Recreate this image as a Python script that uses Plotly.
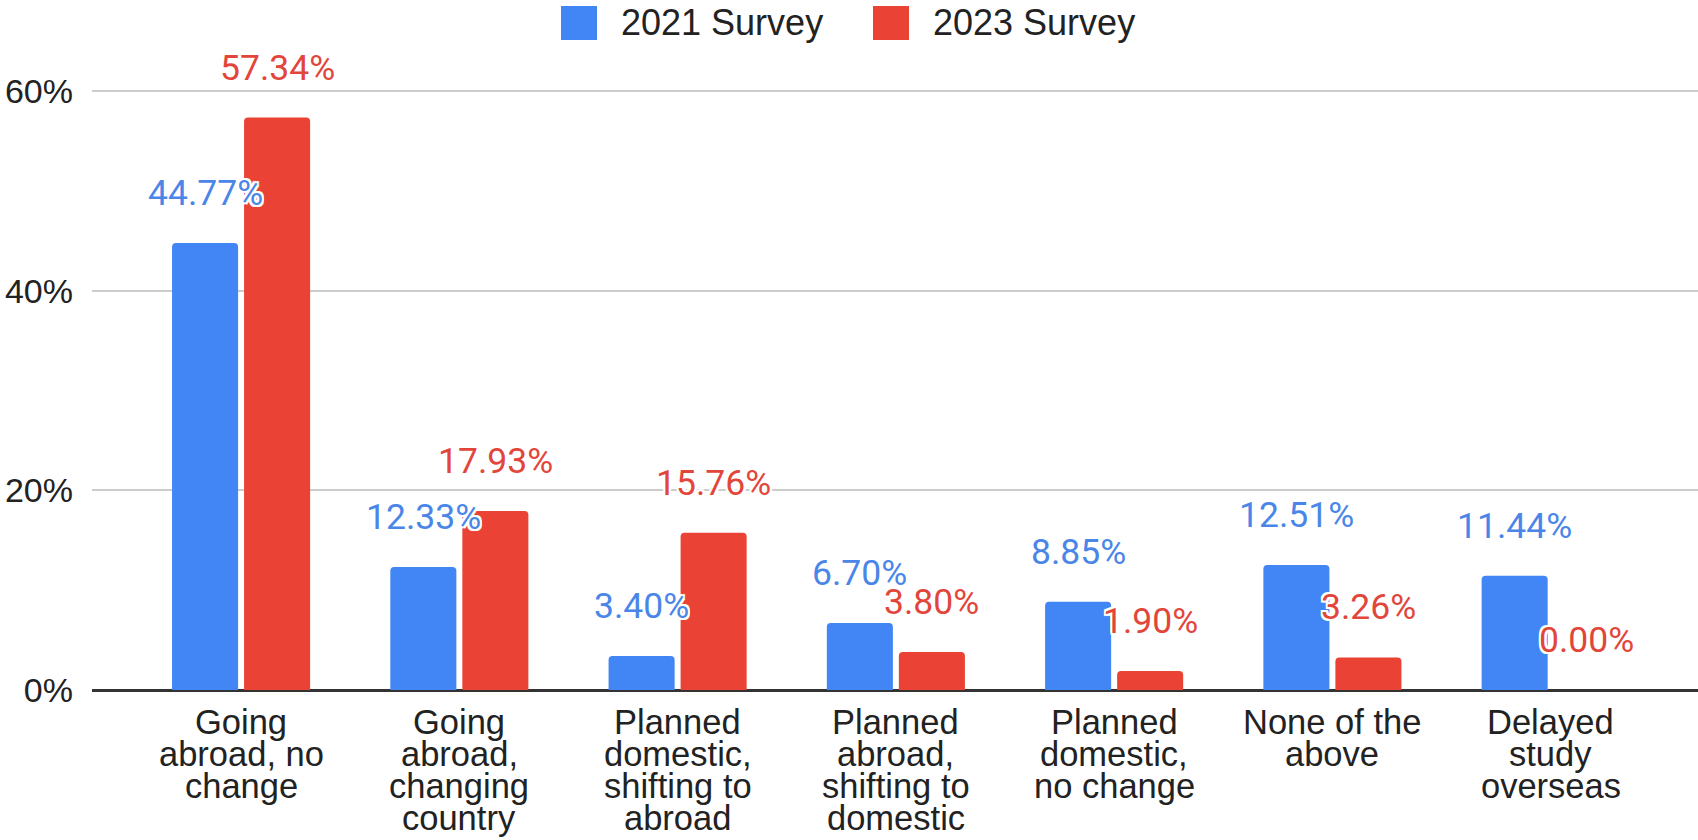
import plotly.graph_objects as go

# ---- data ----
categories = [
    "Going<br>abroad, no<br>change",
    "Going<br>abroad,<br>changing<br>country",
    "Planned<br>domestic,<br>shifting to<br>abroad",
    "Planned<br>abroad,<br>shifting to<br>domestic",
    "Planned<br>domestic,<br>no change",
    "None of the<br>above",
    "Delayed<br>study<br>overseas",
]
survey_2021 = [44.77, 12.33, 3.40, 6.70, 8.85, 12.51, 11.44]
survey_2023 = [57.34, 17.93, 15.76, 3.80, 1.90, 3.26, 0.00]
series_names = ["2021 Survey", "2023 Survey"]
y_tick_values = [0, 20, 40, 60]
y_tick_labels = ["0%", "20%", "40%", "60%"]

# ---- styling ----
W, H = 1698, 840
M_L, M_R, M_T, M_B = 92, 0, 60, 150
BLUE, RED = "#4285F4", "#EA4335"
BLUE_TXT, RED_TXT = "#4A86E8", "#E2463B"
AXIS_FONT = "Liberation Sans, Arial, sans-serif"
LABEL_FONT = "Roboto, sans-serif"
HALO = ", ".join(
    f"{dx}px {dy}px 0 #ffffff"
    for dx, dy in [(-2, -2), (2, -2), (-2, 2), (2, 2), (0, 2), (0, -2), (2, 0), (-2, 0)]
)
SLOT_HALF = 36  # half of one bar slot in pixels
LINE_STEP = 32  # vertical step between category label lines

fig = go.Figure()
for name, vals, col in [(series_names[0], survey_2021, BLUE),
                        (series_names[1], survey_2023, RED)]:
    fig.add_trace(go.Bar(
        x=categories, y=vals, name=name,
        marker=dict(color=col, cornerradius=4, line=dict(width=0)),
        showlegend=False, hoverinfo="skip",
    ))

annotations = []
# value labels above each bar
for vals, shift, col in [(survey_2021, -SLOT_HALF, BLUE_TXT),
                         (survey_2023, SLOT_HALF, RED_TXT)]:
    for cat, v in zip(categories, vals):
        annotations.append(dict(
            x=cat, y=v, xref="x", yref="y", text=f"{v:.2f}%",
            showarrow=False, xshift=shift, yshift=50, yanchor="middle",
            font=dict(family=LABEL_FONT, size=35.5, color=col, shadow=HALO),
        ))

# category labels, one annotation per line for tight line spacing
for cat in categories:
    for k, line in enumerate(cat.split("<br>")):
        annotations.append(dict(
            x=cat, y=0, xref="x", yref="y", text=line, showarrow=False,
            yanchor="middle", yshift=-32 - LINE_STEP * k,
            font=dict(family=AXIS_FONT, size=34.5, color="#222222"),
        ))

# legend drawn at the top
plot_w = W - M_L - M_R
plot_h = H - M_T - M_B


def px_x(px):
    return (px - M_L) / plot_w


def px_y(py):
    return (H - M_B - py) / plot_h


shapes = []
legend_items = [(series_names[0], BLUE, 561), (series_names[1], RED, 873)]
for name, col, x0 in legend_items:
    shapes.append(dict(
        type="rect", xref="paper", yref="paper",
        x0=px_x(x0), x1=px_x(x0 + 36), y0=px_y(40), y1=px_y(6),
        fillcolor=col, line=dict(width=0),
    ))
    annotations.append(dict(
        x=px_x(x0 + 58), y=px_y(23), xref="paper", yref="paper",
        xanchor="left", yanchor="middle", text=name, showarrow=False,
        font=dict(family=AXIS_FONT, size=36, color="#222222"),
    ))

fig.update_layout(
    width=W, height=H,
    margin=dict(l=M_L, r=M_R, t=M_T, b=M_B, pad=0),
    paper_bgcolor="white", plot_bgcolor="white",
    barmode="group", bargap=0.34, bargroupgap=0.083,
    annotations=annotations, shapes=shapes,
    showlegend=False,
    xaxis=dict(
        range=[-0.683, 6.675], showticklabels=False, showgrid=False,
        zeroline=False, showline=False, ticks="", fixedrange=True,
    ),
    yaxis=dict(
        range=[0, 63.1], tickvals=y_tick_values, ticktext=y_tick_labels,
        showgrid=True, gridcolor="#cccccc", gridwidth=2,
        zeroline=True, zerolinecolor="#333333", zerolinewidth=2.5,
        showline=False, ticks="", ticklabelstandoff=18,
        tickfont=dict(family=AXIS_FONT, size=34, color="#222222"),
        fixedrange=True,
    ),
)

fig.write_html("out.html")
